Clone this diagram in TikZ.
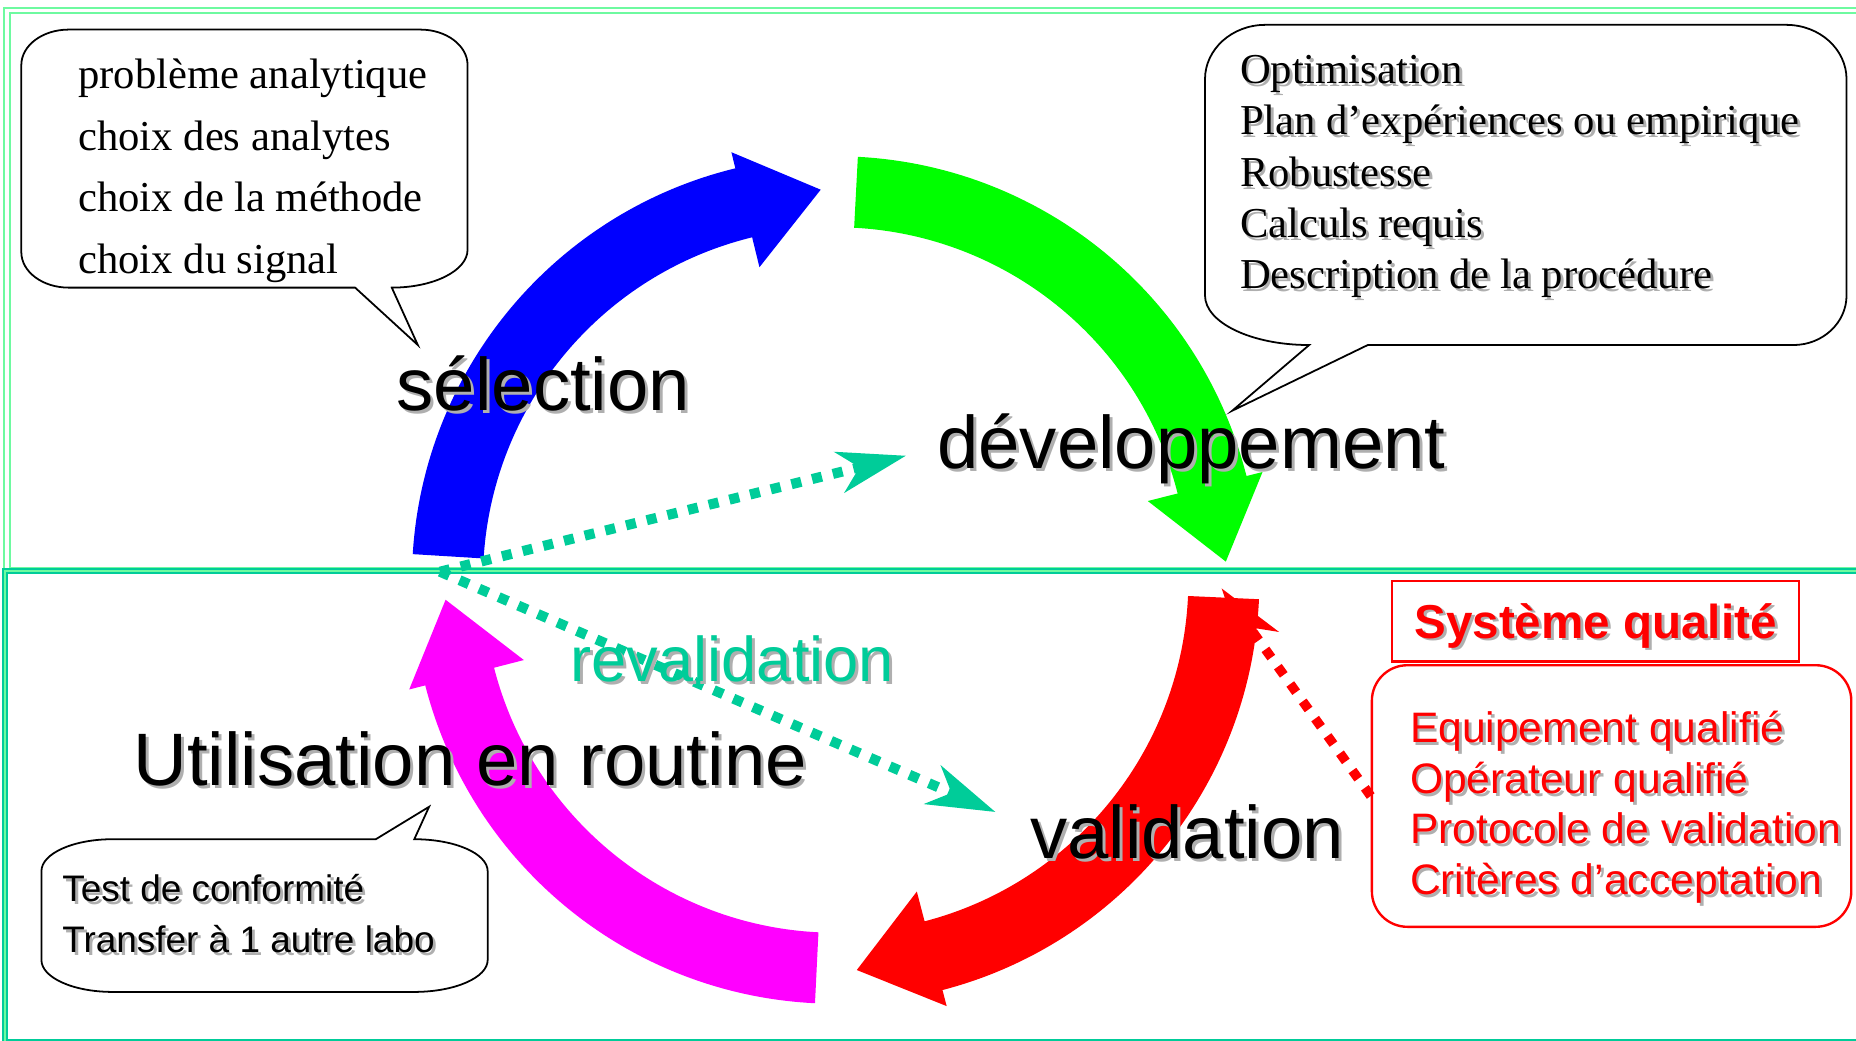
\documentclass[tikz,border=0pt]{standalone}
\usepackage{fontspec}
\setmainfont{Liberation Serif}
\newfontfamily\arialfont{Liberation Sans}
\usetikzlibrary{arrows.meta}
\definecolor{revalTeal}{RGB}{0,204,153}
\definecolor{frameMint}{RGB}{110,250,160}
\definecolor{shadowGray}{RGB}{175,175,175}
\definecolor{selBlue}{RGB}{0,0,255}
\definecolor{devGreen}{RGB}{0,255,0}
\definecolor{valRed}{RGB}{255,0,0}
\definecolor{useMagenta}{RGB}{255,0,255}
% text with a soft grey drop shadow
\newcommand{\shd}[1]{\rlap{\kern2.5pt\raisebox{-2.5pt}{\textcolor{shadowGray}{#1}}}#1}

\begin{document}
\begin{tikzpicture}[x=1pt, y=1pt]
    \tikzstyle{stage} = [anchor=base west, inner sep=0pt, font=\arialfont\fontsize{62.8pt}{70pt}\selectfont]
    \tikzstyle{serifline} = [anchor=base west, inner sep=0pt, font=\fontsize{36pt}{43pt}\selectfont]
    \tikzstyle{sansline} = [anchor=base west, inner sep=0pt, font=\arialfont\fontsize{31.2pt}{43pt}\selectfont]
    \tikzstyle{qualline} = [anchor=base west, inner sep=0pt, text=valRed, font=\arialfont\fontsize{36pt}{43pt}\selectfont]
    \tikzstyle{bubble} = [draw=black, line width=1.5pt, fill=white]
    \tikzstyle{dotline} = [line width=8.5pt, dash pattern=on 8.5pt off 9.5pt, -{Stealth[length=57.5pt, width=35pt, inset=17pt]}]

    \useasboundingbox (0,0) rectangle (1568,879);
    \clip (0,0) rectangle (1568,879);

    % upper and lower panels
    \draw[frameMint, double=white, line width=1.7pt, double distance=2.9pt] (5.9,869.9) rectangle (1600,396.8);
    \draw[revalTeal, double=frameMint, line width=1.9pt, double distance=1.4pt] (4.4,396.8) rectangle (1600,-1);

    % quality system boxes
    \node[draw=valRed, line width=2pt, inner sep=0pt, text height=48pt, text depth=20pt, minimum width=344pt,
          text=valRed, font=\arialfont\bfseries\fontsize{40.2pt}{48pt}\selectfont] (qtitle) at (1348,354) {\shd{Système qualité}};
    \node[draw=valRed, line width=2pt, rounded corners=30pt, inner sep=0pt, minimum width=405pt, minimum height=221pt] (qlist) at (1361.5,206.5) {};
    \foreach \txt [count=\i from 0] in {Equipement qualifié, Opérateur qualifié, Protocole de validation, Critères d’acceptation}
        \node[qualline] (q\i) at (1191,{252-43*\i}) {\shd{\txt}};

    \coordinate (valstart) at (1032,382);
    \draw[dotline, valRed, line width=8pt] (qlist.west) -- (valstart);

    % the four stage arrows around the cycle
    \begin{scope}[shift={(706,389)}]
        \foreach \col/\a in {selBlue/176.5, devGreen/87, valRed/-2.6, useMagenta/-92.8} {
            \pgfmathsetmacro{\headang}{\a-72.8}
            \pgfmathsetmacro{\tipang}{\a-84.3}
            \fill[\col] (\a:358) arc[start angle=\a, end angle=\headang, radius=358] -- (\headang:372)
                -- (\tipang:330) -- (\headang:272) -- (\headang:298)
                arc[start angle=\headang, end angle=\a, radius=298] -- cycle;
        }
    \end{scope}

    % revalidation paths
    \coordinate (revalstart) at (371.7,396);
    \coordinate (devtip) at (765.4,494);
    \coordinate (valtip) at (841,193);
    \draw[dotline, revalTeal] (revalstart) -- (devtip);
    \draw[dotline, revalTeal] (revalstart) -- (valtip);

    \node[stage] (sel) at (335,532) {\shd{sélection}};
    \node[stage] (dev) at (791.6,483) {\shd{développement}};
    \node[stage] (val) at (870,154) {\shd{validation}};
    \node[stage] (util) at (112.5,215) {\shd{Utilisation en routine}};
    \node[stage, text=revalTeal, font=\arialfont\fontsize{53.4pt}{60pt}\selectfont] (reval) at (482,303) {\shd{revalidation}};

    % callouts
    \draw[bubble] (58,854) -- (355,854) arc[start angle=90, end angle=0, x radius=40, y radius=30]
        -- (395,668) arc[start angle=0, end angle=-90, x radius=64, y radius=32]
        -- (353,587.5) -- (300,636) -- (58,636) arc[start angle=-90, end angle=-180, x radius=40, y radius=30]
        -- (18,824) arc[start angle=180, end angle=90, x radius=40, y radius=30] -- cycle;
    \foreach \txt [count=\i from 0] in {problème analytique, choix des analytes, choix de la méthode, choix du signal}
        \node[serifline] (sel\i) at (66,{804-52*\i}) {\txt};

    \draw[bubble] (1069,858) -- (1509,858) arc[start angle=90, end angle=0, x radius=51, y radius=46]
        -- (1560,629.5) arc[start angle=0, end angle=-90, x radius=45, y radius=42]
        -- (1155.5,587.5) -- (1041,532) -- (1106,587.5) arc[start angle=-90, end angle=-180, x radius=88, y radius=42]
        -- (1018,812) arc[start angle=180, end angle=90, x radius=51, y radius=46] -- cycle;
    \foreach \txt [count=\i from 0] in {Optimisation, Plan d’expériences ou empirique, Robustesse, Calculs requis, Description de la procédure}
        \node[serifline] (dev\i) at (1047.4,{808.5-43.4*\i}) {\shd{\txt}};

    \draw[bubble] (95,170) -- (317.5,170) -- (362.5,197.4) -- (350,170)
        arc[start angle=90, end angle=0, x radius=62, y radius=27] -- (412,68)
        arc[start angle=0, end angle=-90, x radius=62, y radius=27] -- (95,41)
        arc[start angle=-90, end angle=-180, x radius=60, y radius=27] -- (35,143)
        arc[start angle=180, end angle=90, x radius=60, y radius=27] -- cycle;
    \foreach \txt [count=\i from 0] in {Test de conformité, Transfer à 1 autre labo}
        \node[sansline] (util\i) at (52.5,{117.3-43*\i}) {\shd{\txt}};
\end{tikzpicture}
\end{document}
